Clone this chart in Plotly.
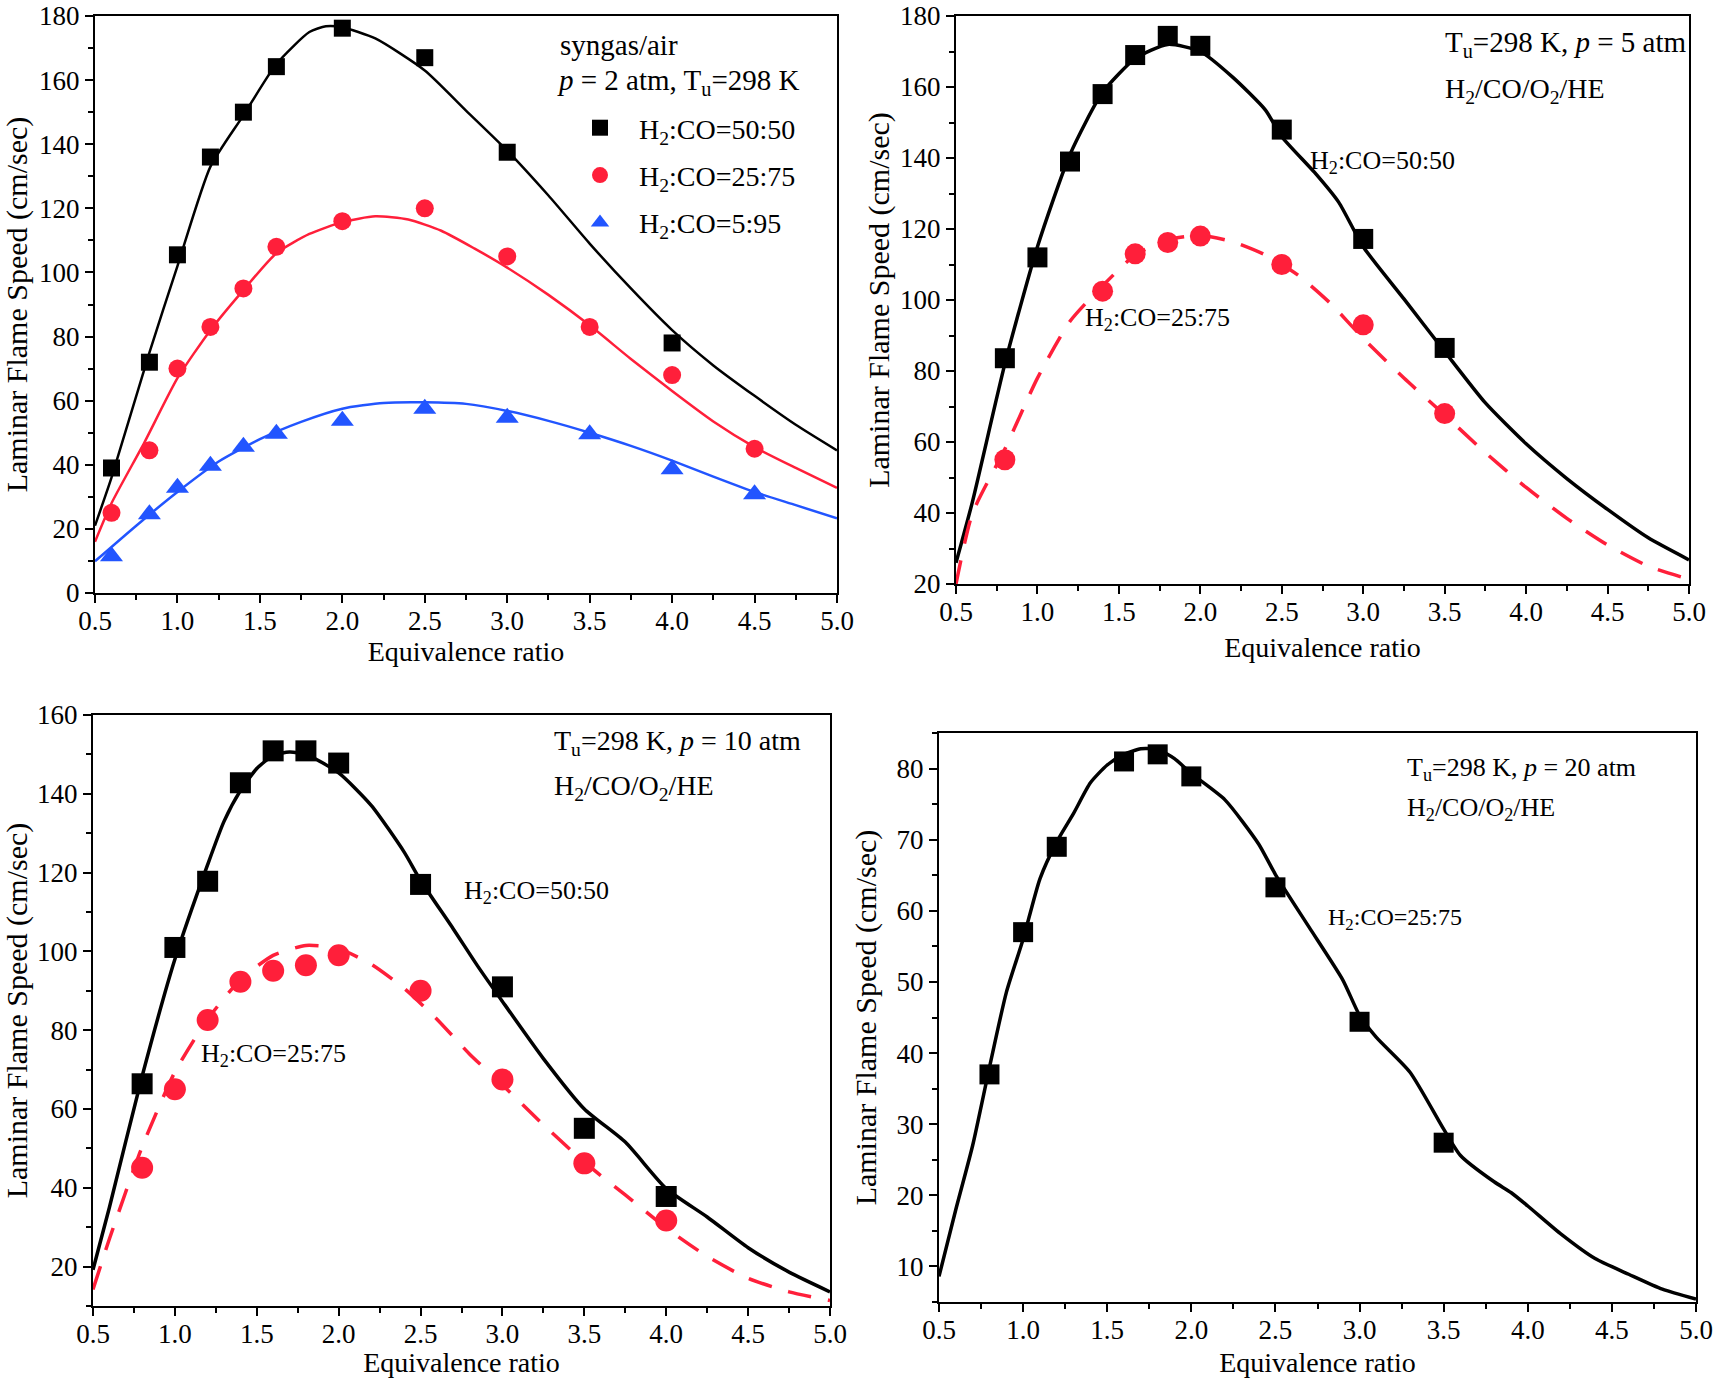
import plotly.graph_objects as go

FONT = "Liberation Serif"
W, H = 1717, 1378
RED = "#FF1F3A"
BLUE = "#2255FF"

# ---------------- Panel 1 : syngas/air, p = 2 atm ----------------
p1_phi_a = [0.6, 0.83, 1.0, 1.2, 1.4, 1.6, 2.0, 2.5, 3.0, 4.0]
p1_exp_5050 = [39, 72, 105.5, 136, 150, 164.2, 176.2, 167, 137.5, 78]
p1_phi_b = [0.6, 0.83, 1.0, 1.2, 1.4, 1.6, 2.0, 2.5, 3.0, 3.5, 4.0, 4.5]
p1_exp_2575 = [25, 44.5, 70, 83, 95, 108, 116, 120, 105, 83, 68, 45]
p1_exp_595 = [11.5, 24.6, 32.8, 39.7, 45.6, 49.7, 53.7, 57.5, 54.7, 49.5, 38.6, 30.8]

p1_mod_phi_5050 = [0.5, 0.6, 0.83, 1.0, 1.2, 1.4, 1.6, 1.8, 1.9, 2.0, 2.2, 2.5, 2.75, 3.0,
                   3.25, 3.5, 3.75, 4.0, 4.25, 4.5, 4.75, 5.0]
p1_mod_5050 = [21, 36, 75, 102, 133, 149, 165, 175, 176.8, 176.5, 173, 163, 150.5, 138,
               124, 109, 95, 82, 71, 61.5, 52.5, 44.5]
p1_mod_phi_2575 = [0.5, 0.6, 0.8, 1.0, 1.2, 1.4, 1.6, 1.8, 2.0, 2.2, 2.4, 2.6, 2.8, 3.0,
                   3.25, 3.5, 3.75, 4.0, 4.25, 4.5, 4.75, 5.0]
p1_mod_2575 = [16, 28, 47, 67, 82, 94.5, 106, 112, 115.7, 117.5, 116.5, 113, 107.5, 101.5,
               93, 83.5, 73, 63, 53.5, 45.5, 39, 32.8]
p1_mod_phi_595 = [0.5, 0.75, 1.0, 1.25, 1.5, 1.75, 2.0, 2.25, 2.5, 2.75, 3.0, 3.25, 3.5,
                  3.75, 4.0, 4.25, 4.5, 4.75, 5.0]
p1_mod_595 = [9.9, 21, 31.5, 41, 48, 53.4, 57.5, 59.3, 59.5, 59, 56.8, 53.7, 50,
              45.9, 41.3, 36.3, 31.5, 27.4, 23.3]

# ---------------- Panel 2 : H2/CO/O2/HE, p = 5 atm ----------------
p2_phi_a = [0.8, 1.0, 1.2, 1.4, 1.6, 1.8, 2.0, 2.5, 3.0, 3.5]
p2_exp_5050 = [83.6, 112, 139, 158, 169, 174.4, 171.6, 148, 117.2, 86.5]
p2_phi_b = [0.8, 1.4, 1.6, 1.8, 2.0, 2.5, 3.0, 3.5]
p2_exp_2575 = [55, 102.5, 113, 116.2, 118, 110, 93, 68]
p2_mod_phi_5050 = [0.5, 0.6, 0.8, 1.0, 1.2, 1.4, 1.6, 1.8, 2.0, 2.2, 2.4, 2.5, 2.7, 2.85,
                   3.0, 3.25, 3.5, 3.75, 4.0, 4.25, 4.5, 4.75, 5.0]
p2_mod_5050 = [26, 43, 82, 115, 141, 158.5, 168, 172, 170, 162.7, 153.5, 146, 136, 127.5,
               115, 100.3, 85.5, 71, 59.5, 49.7, 41, 33, 26.8]
p2_mod_phi_2575 = [0.5, 0.6, 0.8, 1.0, 1.2, 1.4, 1.6, 1.8, 2.0, 2.2, 2.4, 2.6, 2.8, 3.0,
                   3.25, 3.5, 3.75, 4.0, 4.25, 4.5, 4.75, 4.95]
p2_mod_2575 = [20, 39.8, 58, 78, 94, 104, 112.7, 117, 118.2, 116.4, 112.7, 107, 99, 89.2,
               78, 67.6, 57, 47.2, 38.5, 31, 25, 22]

# ---------------- Panel 3 : H2/CO/O2/HE, p = 10 atm ----------------
p3_phi = [0.8, 1.0, 1.2, 1.4, 1.6, 1.8, 2.0, 2.5, 3.0, 3.5, 4.0]
p3_exp_5050 = [66.4, 101, 117.8, 142.8, 150.9, 150.9, 147.8, 117, 91, 55.1, 37.8]
p3_exp_2575 = [45.1, 65, 82.6, 92.3, 95.1, 96.5, 99, 90, 67.5, 46.2, 31.7]
p3_mod_phi_5050 = [0.5, 0.6, 0.8, 1.0, 1.2, 1.3, 1.4, 1.5, 1.6, 1.7, 1.8, 2.0, 2.2, 2.4,
                   2.5, 2.7, 2.85, 3.0, 3.25, 3.5, 3.75, 4.0, 4.25, 4.5, 4.75, 5.0]
p3_mod_5050 = [19.2, 35, 68.3, 98, 122, 133, 140.8, 146.4, 149.7, 150.6, 150, 145.3, 137,
               125.2, 118, 105.7, 96.2, 87.3, 72.8, 60, 51.6, 39.8, 32.6, 24.8, 18.6, 13.6]
p3_mod_phi_2575 = [0.5, 0.6, 0.8, 1.0, 1.2, 1.4, 1.6, 1.8, 2.0, 2.2, 2.4, 2.6, 2.8, 3.0,
                   3.25, 3.5, 3.75, 4.0, 4.25, 4.5, 4.75, 5.0]
p3_mod_2575 = [14.2, 27, 50.4, 69.4, 82.8, 92.8, 99, 101.5, 100.7, 96.7, 90.6, 82.8, 73.9,
               66.1, 56, 46.5, 38.2, 29.8, 22.6, 17, 13.6, 11.4]

# ---------------- Panel 4 : H2/CO/O2/HE, p = 20 atm ----------------
p4_phi = [0.8, 1.0, 1.2, 1.6, 1.8, 2.0, 2.5, 3.0, 3.5]
p4_exp_2575 = [37, 57, 69, 81, 82, 78.9, 63.3, 44.4, 27.4]
p4_mod_phi = [0.5, 0.6, 0.7, 0.8, 0.9, 1.0, 1.1, 1.2, 1.3, 1.4, 1.5, 1.6, 1.7, 1.8, 1.9,
              2.0, 2.2, 2.4, 2.5, 2.7, 2.9, 3.0, 3.1, 3.3, 3.5, 3.6, 3.8, 3.9, 4.0, 4.2,
              4.4, 4.6, 4.8, 5.0]
p4_mod_2575 = [8.6, 18, 27, 38, 48.5, 56, 64.5, 69.7, 73.7, 78, 80.5, 82, 82.8, 82.7, 81.4,
               79.3, 75.6, 69.4, 65.1, 57.7, 50.3, 45.3, 42.2, 37.3, 29.3, 25.6, 21.9,
               20.4, 18.5, 14.5, 11.1, 8.9, 6.8, 5.4]

X_TITLE = "Equivalence ratio"
Y_TITLE = "Laminar Flame Speed (cm/sec)"
LBL_5050 = "H<sub>2</sub>:CO=50:50"
LBL_2575 = "H<sub>2</sub>:CO=25:75"
LBL_595 = "H<sub>2</sub>:CO=5:95"
MIX = "H<sub>2</sub>/CO/O<sub>2</sub>/HE"

fig = go.Figure()


def line(x, y, ax, color, width, dash="solid"):
    fig.add_trace(go.Scatter(x=x, y=y, mode="lines", xaxis="x" + ax, yaxis="y" + ax,
                             line=dict(color=color, width=width, dash=dash,
                                       shape="spline", smoothing=0.6),
                             showlegend=False, hoverinfo="skip"))


def pts(x, y, ax, color, symbol, size, name=None, legend=False, group=None):
    fig.add_trace(go.Scatter(x=x, y=y, mode="markers", xaxis="x" + ax, yaxis="y" + ax,
                             marker=dict(color=color, symbol=symbol, size=size,
                                         line=dict(width=0)),
                             name=name, showlegend=legend, legendgroup=group))


# panel 1
line(p1_mod_phi_5050, p1_mod_5050, "", "black", 2.5)
line(p1_mod_phi_2575, p1_mod_2575, "", RED, 2.5)
line(p1_mod_phi_595, p1_mod_595, "", BLUE, 2.5)
pts(p1_phi_a, p1_exp_5050, "", "black", "square", 17, LBL_5050, True, "g1")
pts(p1_phi_b, p1_exp_2575, "", RED, "circle", 18, LBL_2575, True, "g2")
pts(p1_phi_b, p1_exp_595, "", BLUE, "triangle-up", 20, LBL_595, True, "g3")

# panel 2
line(p2_mod_phi_5050, p2_mod_5050, "2", "black", 3.5)
line(p2_mod_phi_2575, p2_mod_2575, "2", RED, 3.5, "24px,17px")
pts(p2_phi_a, p2_exp_5050, "2", "black", "square", 20)
pts(p2_phi_b, p2_exp_2575, "2", RED, "circle", 21)

# panel 3
line(p3_mod_phi_5050, p3_mod_5050, "3", "black", 3.5)
line(p3_mod_phi_2575, p3_mod_2575, "3", RED, 3.5, "24px,17px")
pts(p3_phi, p3_exp_5050, "3", "black", "square", 21)
pts(p3_phi, p3_exp_2575, "3", RED, "circle", 22)

# panel 4
line(p4_mod_phi, p4_mod_2575, "4", "black", 3.5)
pts(p4_phi, p4_exp_2575, "4", "black", "square", 20)


def fx(a, b):
    return [a / W, b / W]


def fy(top, bottom):
    return [1 - bottom / H, 1 - top / H]


tick_font = dict(family=FONT, size=27, color="black")


def xaxis(dom, anchor, standoff):
    return dict(domain=dom, anchor=anchor, range=[0.5, 5.0], dtick=0.5, tick0=0.5,
                tickformat=".1f", showline=True, linecolor="black", linewidth=2,
                mirror=True, ticks="outside", ticklen=8, tickwidth=2, tickcolor="black",
                ticklabelstandoff=-5, automargin=False,
                minor=dict(ticks="outside", ticklen=5, tickwidth=2, dtick=0.25,
                           tick0=0.5, tickcolor="black"),
                showgrid=False, zeroline=False, tickfont=tick_font,
                title=dict(text=X_TITLE, font=dict(family=FONT, size=28, color="black"),
                           standoff=standoff))


def yaxis(dom, anchor, rng, dtick, mdtick, standoff):
    return dict(domain=dom, anchor=anchor, range=rng, dtick=dtick, tick0=0,
                showline=True, linecolor="black", linewidth=2, mirror=True,
                ticks="outside", ticklen=8, tickwidth=2, tickcolor="black",
                automargin=False,
                minor=dict(ticks="outside", ticklen=5, tickwidth=2, dtick=mdtick,
                           tick0=0, tickcolor="black"),
                showgrid=False, zeroline=False, tickfont=tick_font,
                title=dict(text=Y_TITLE, font=dict(family=FONT, size=30, color="black"),
                           standoff=standoff))


fig.update_layout(
    width=W, height=H,
    margin=dict(l=0, r=0, t=0, b=0, autoexpand=False),
    paper_bgcolor="white", plot_bgcolor="white",
    font=dict(family=FONT, color="black"),
    xaxis=xaxis(fx(95, 837), "y", 4),
    yaxis=yaxis(fy(16, 593), "x", [0, 180], 20, 10, 4),
    xaxis2=xaxis(fx(956, 1689), "y2", 11),
    yaxis2=yaxis(fy(16, 584), "x2", [20, 180], 20, 10, 2),
    xaxis3=xaxis(fx(93, 830), "y3", 0),
    yaxis3=yaxis(fy(715, 1306), "x3", [10, 160], 20, 10, 9),
    xaxis4=xaxis(fx(939, 1696), "y4", 8),
    yaxis4=yaxis(fy(733, 1302), "x4", [5, 85], 10, 5, 11),
    legend=dict(x=561 / W, y=1 - 103 / H, xanchor="left", yanchor="top",
                bgcolor="rgba(0,0,0,0)", borderwidth=0, itemwidth=68,
                tracegroupgap=8, traceorder="grouped",
                font=dict(family=FONT, size=28, color="black")),
    showlegend=True,
)


def note(text, x, y, ax, size):
    fig.add_annotation(text=text, x=x, y=y, xref="x" + ax, yref="y" + ax,
                       xanchor="left", yanchor="middle", showarrow=False,
                       font=dict(family=FONT, size=size, color="black"))


note("syngas/air", 3.31, 171, "", 29)
note("<i>p</i> = 2 atm, T<sub>u</sub>=298 K", 3.29, 159.5, "", 29)

note("T<sub>u</sub>=298 K, <i>p</i> = 5 atm", 3.49, 172, "2", 29)
note(MIX, 3.49, 159, "2", 28)
note(LBL_5050, 2.66, 139, "2", 26)
note(LBL_2575, 1.28, 94.7, "2", 26)

note("T<sub>u</sub>=298 K, <i>p</i> = 10 atm", 3.30, 153, "3", 28)
note(MIX, 3.30, 141.7, "3", 28)
note(LBL_5050, 2.75, 115, "3", 26)
note(LBL_2575, 1.15, 73.7, "3", 26)

note("T<sub>u</sub>=298 K, <i>p</i> = 20 atm", 3.27, 80, "4", 26)
note(MIX, 3.27, 74.3, "4", 26)
note(LBL_2575, 2.80, 58.8, "4", 24)

fig.write_html("out.html", config={"displayModeBar": False},
               post_script="document.body.style.margin='0px';")
